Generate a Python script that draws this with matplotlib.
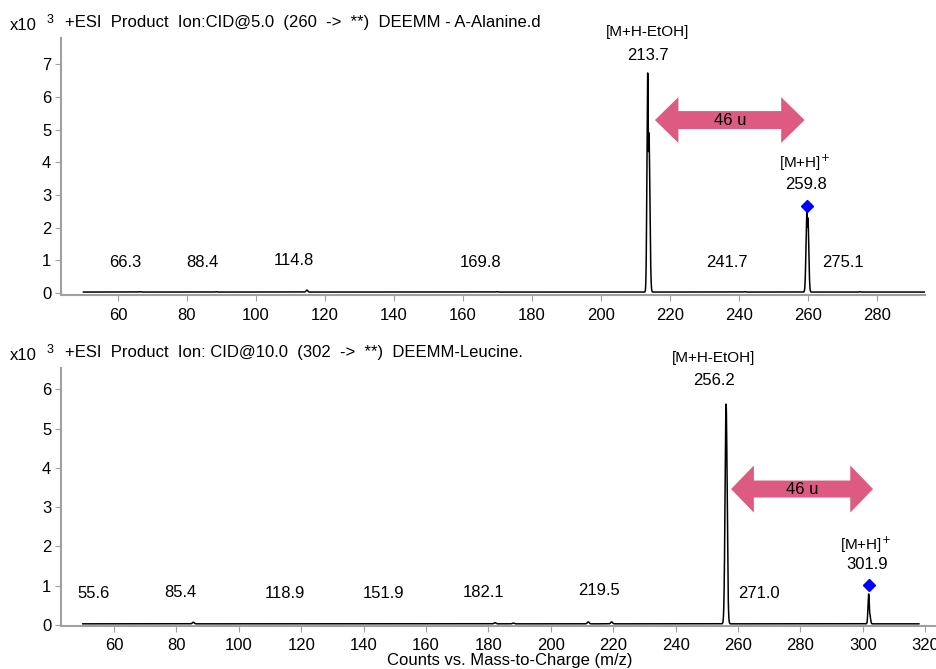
import matplotlib
matplotlib.use("Agg")
import matplotlib.pyplot as plt
from matplotlib.patches import Polygon
import numpy as np

plt.rcParams['font.family'] = ['Liberation Sans', 'DejaVu Sans']

# ---------------- data ----------------
# Panel 1: DEEMM - A-Alanine
top_title = "+ESI  Product  Ion:CID@5.0  (260  ->  **)  DEEMM - A-Alanine.d"
top_range = (50.0, 294.0)
top_base = 0.03
# peaks: m/z, intensity (x10^3), peak width (sigma, m/z)
top_peak_mz = [66.3, 88.4, 114.8, 169.8, 213.6, 213.95, 241.7, 259.75, 260.05, 275.1]
top_peak_int = [0.04, 0.04, 0.09, 0.04, 6.73, 4.90, 0.04, 2.50, 2.30, 0.04]
top_peak_sd = [0.25, 0.25, 0.25, 0.25, 0.22, 0.28, 0.25, 0.25, 0.25, 0.25]
top_labels = ["66.3", "88.4", "114.8", "169.8", "241.7", "275.1"]
top_label_x = [62.0, 84.6, 111.0, 165.2, 236.5, 270.1]
top_label_y = [0.92, 0.92, 0.98, 0.92, 0.92, 0.92]
top_main = ("[M+H-EtOH]", "213.7", 213.6, 7.98, 7.28)
top_prec = ("[M+H]$^{+}$", "259.8", 259.1, 3.98, 3.33)
top_diamond = (259.8, 2.66)
top_arrow = (215.7, 259.1, 5.29)
top_yticks = [0, 1, 2, 3, 4, 5, 6, 7]
top_xticks = [60, 80, 100, 120, 140, 160, 180, 200, 220, 240, 260, 280]

# Panel 2: DEEMM - Leucine
bot_title = "+ESI  Product  Ion: CID@10.0  (302  ->  **)  DEEMM-Leucine."
bot_range = (50.0, 318.0)
bot_base = 0.03
bot_peak_mz = [85.4, 182.1, 188.0, 212.0, 219.5, 256.2, 301.9, 302.2]
bot_peak_int = [0.07, 0.06, 0.05, 0.08, 0.08, 5.62, 0.79, 0.30]
bot_peak_sd = [0.3, 0.3, 0.3, 0.3, 0.3, 0.33, 0.22, 0.25]
bot_labels = ["55.6", "85.4", "118.9", "151.9", "182.1", "219.5", "271.0"]
bot_label_x = [53.3, 81.2, 114.8, 146.5, 178.3, 215.4, 266.7]
bot_label_y = [0.81, 0.84, 0.79, 0.79, 0.84, 0.89, 0.81]
bot_main = ("[M+H-EtOH]", "256.2", 252.3, 6.79, 6.23)
bot_prec = ("[M+H]$^{+}$", "301.9", 300.8, 2.04, 1.53)
bot_diamond = (301.9, 1.02)
bot_arrow = (257.8, 303.3, 3.46)
bot_yticks = [0, 1, 2, 3, 4, 5, 6]
bot_xticks = [60, 80, 100, 120, 140, 160, 180, 200, 220, 240, 260, 280, 300, 320]

PINK = "#dd5b80"
GRAY = "#a0a0a0"
FS = 12


def profile(rng, base, mz, inten, sd):
    xs = np.arange(rng[0], rng[1], 0.01)
    ys = np.full_like(xs, base)
    for m, h, s in zip(mz, inten, sd):
        ys = np.maximum(ys, base + (h - base) * np.exp(-0.5 * ((xs - m) / s) ** 2))
    return xs, ys


def double_arrow(ax, x0, x1, yc, head_len, head_h, body_h):
    pts = [
        (x0, yc),
        (x0 + head_len, yc + head_h),
        (x0 + head_len, yc + body_h),
        (x1 - head_len, yc + body_h),
        (x1 - head_len, yc + head_h),
        (x1, yc),
        (x1 - head_len, yc - head_h),
        (x1 - head_len, yc - body_h),
        (x0 + head_len, yc - body_h),
        (x0 + head_len, yc - head_h),
    ]
    ax.add_patch(Polygon(pts, closed=True, facecolor=PINK, edgecolor='none', zorder=3))
    ax.text((x0 + x1) / 2, yc, "46 u", ha='center', va='center', fontsize=FS, zorder=4)


def style(ax, xlim, ylim, xticks, yticks):
    ax.set_xlim(*xlim)
    ax.set_ylim(*ylim)
    ax.set_xticks(xticks)
    ax.set_yticks(yticks)
    for s in ['top', 'right']:
        ax.spines[s].set_visible(False)
    for s in ['left', 'bottom']:
        ax.spines[s].set_color(GRAY)
        ax.spines[s].set_linewidth(1.5)
    ax.tick_params(axis='both', colors=GRAY, labelcolor='black', labelsize=FS,
                   length=4, width=0.8, direction='out')
    ax.tick_params(axis='x', pad=5)
    ax.tick_params(axis='y', pad=3)


fig = plt.figure(figsize=(9.37, 6.69), dpi=100)

W, H = 937, 669
ax1 = fig.add_axes([61 / W, 1 - 295 / H, (925 - 61) / W, (295 - 38) / H])
ax2 = fig.add_axes([61 / W, 1 - 626 / H, (937 - 61) / W, (626 - 368) / H])

panels = [
    (ax1, top_title, top_range, top_base, top_peak_mz, top_peak_int, top_peak_sd,
     top_labels, top_label_x, top_label_y, top_main, top_prec, top_diamond, top_arrow,
     (43.5, 294.0), (-0.06, 7.8), top_xticks, top_yticks, (6.8, 0.70, 0.275), 32),
    (ax2, bot_title, bot_range, bot_base, bot_peak_mz, bot_peak_int, bot_peak_sd,
     bot_labels, bot_label_x, bot_label_y, bot_main, bot_prec, bot_diamond, bot_arrow,
     (43.0, 323.8), (-0.025, 6.54), bot_xticks, bot_yticks, (7.3, 0.60, 0.216), 362),
]

for (ax, title, rng, base, mz, inten, sd, labs, lx, ly, main, prec, dia, arr,
     xlim, ylim, xt, yt, arrdims, ty) in panels:
    x, y = profile(rng, base, mz, inten, sd)
    ax.plot(x, y, color='black', lw=1.1, zorder=2)
    for t, xx, yy in zip(labs, lx, ly):
        ax.text(xx, yy, t, ha='center', va='center', fontsize=FS)
    ax.text(main[2], main[3], main[0], ha='center', va='center', fontsize=FS - 1, clip_on=False)
    ax.text(main[2], main[4], main[1], ha='center', va='center', fontsize=FS)
    ax.text(prec[2], prec[3], prec[0], ha='center', va='center', fontsize=FS - 1)
    ax.text(prec[2] + 0.5, prec[4], prec[1], ha='center', va='center', fontsize=FS)
    ax.plot([dia[0]], [dia[1]], marker='D', color='#0000ff', markersize=6, zorder=4)
    double_arrow(ax, arr[0], arr[1], arr[2], *arrdims)
    style(ax, xlim, ylim, xt, yt)
    fig.text(10 / W, 1 - (ty - 7) / H, "x10", fontsize=FS, va='center', ha='left')
    fig.text(47 / W, 1 - (ty - 12) / H, "3", fontsize=FS - 3, va='center', ha='left')
    fig.text(65 / W, 1 - (ty - 10) / H, title, fontsize=FS, va='center', ha='left')

fig.text(510 / W, 1 - 661 / H, "Counts vs. Mass-to-Charge (m/z)", fontsize=FS,
         ha='center', va='center')

fig.savefig("out.png", dpi=100)
